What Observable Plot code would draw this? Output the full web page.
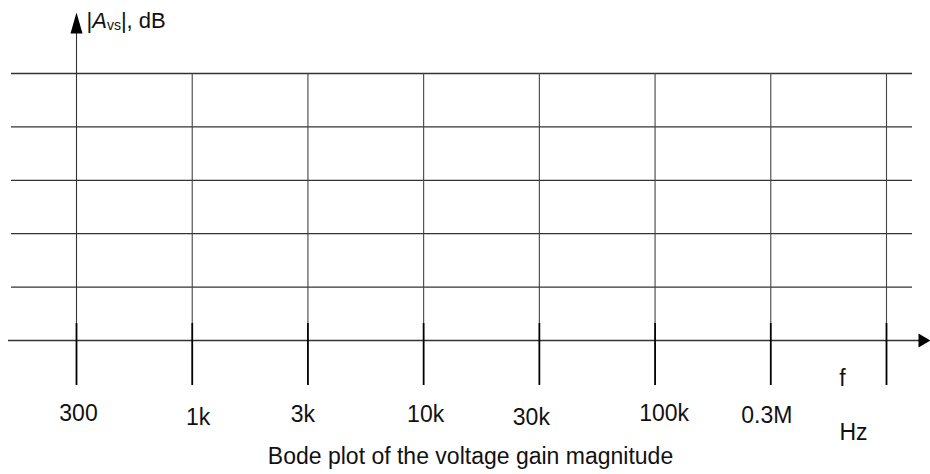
<!DOCTYPE html>
<html>
<head>
<meta charset="utf-8">
<script src="https://cdn.jsdelivr.net/npm/d3@7"></script>
<script src="https://cdn.jsdelivr.net/npm/@observablehq/plot@0.6"></script>
<style>
  html, body { margin: 0; padding: 0; background: #fff; }
  #chart svg { display: block; }
</style>
</head>
<body>
<div id="chart"></div>
<script>
// ---- data ----
const freqLabels = ["300", "1k", "3k", "10k", "30k", "100k", "0.3M", ""]; // last line unlabeled
const gridLevels = [0, 10, 20, 30, 40, 50];   // dB levels of the horizontal lines (unlabeled)
const yLabel = "|Avs|, dB";
const xUnitTop = "f";
const xUnitBottom = "Hz";
const caption = "Bode plot of the voltage gain magnitude";

// ---- layout (style) ----
const W = 930, H = 474;
const mL = 76, mR = 44, mT = 73, mB = 134;
const nTicks = freqLabels.length;
const xPer = (W - mL - mR) / (nTicks - 1);      // px per tick index
const yTop = d3.max(gridLevels);
const yPer = (H - mT - mB) / yTop;              // px per dB
const xv = px => (px - mL) / xPer;              // pixel -> x value
const yv = px => (H - mB - px) / yPer;          // pixel -> y value
const FONT = "'Liberation Sans', Arial, Helvetica, sans-serif";
const FS = 23;

const ticks = freqLabels.map((label, i) => ({i, label}));
const labelDx = [2, 6, -5, 2, -8, 9, -4, 0];
const labelDy = [0, 4, 1, 1, 4, 0, 2, 0];

const plot = Plot.plot({
  width: W, height: H,
  marginLeft: mL, marginRight: mR, marginTop: mT, marginBottom: mB,
  style: {fontFamily: FONT, background: "#fff", overflow: "visible"},
  x: {type: "linear", domain: [0, nTicks - 1], axis: null},
  y: {type: "linear", domain: [0, yTop], axis: null},
  marks: [
    // horizontal grid lines
    Plot.ruleY(gridLevels.filter(d => d > 0), {y: d => d, x1: xv(11), x2: xv(912), stroke: "#333", strokeWidth: 1.3}),
    // frequency axis line
    Plot.ruleY([0], {x1: xv(8), x2: xv(919), stroke: "#333", strokeWidth: 1.3}),
    // vertical grid lines (thin upper part)
    Plot.ruleX(ticks.slice(1), {x: "i", y1: yTop, y2: yv(323), stroke: "#444", strokeWidth: 1.1}),
    // y axis line
    Plot.ruleX([0], {x: d => d, y1: yv(30), y2: yv(323), stroke: "#333", strokeWidth: 1.1}),
    // heavier tick parts crossing the axis
    Plot.ruleX(ticks, {x: "i", y1: yv(323), y2: yv(385), stroke: "#000", strokeWidth: 1.8}),
    // arrow heads
    Plot.vector([0], {x: d => d, y: yv(33), length: 21, r: 6, rotate: 0, anchor: "start",
      shape: "spike", fill: "#000", stroke: "none"}),
    Plot.vector([0], {x: xv(918), y: d => d, length: 12, r: 7, rotate: 90, anchor: "start",
      shape: "spike", fill: "#000", stroke: "none"}),
    // tick labels
    Plot.text(ticks.filter(d => d.label), {x: "i", y: yv(413), text: "label", fontSize: FS, fill: "#111"}),
    // unit labels
    Plot.text([xUnitTop], {x: xv(842), y: yv(378), text: d => d, fontSize: FS, fill: "#111"}),
    Plot.text([xUnitBottom], {x: xv(853), y: yv(432), text: d => d, fontSize: FS, fill: "#111"}),
    // y label
    Plot.text([yLabel], {x: xv(86), y: yv(20), text: d => d, textAnchor: "start", fontSize: 22, fill: "#111"}),
    // caption
    Plot.text([caption], {x: xv(470), y: yv(456), text: d => d, fontSize: FS, fill: "#111"})
  ]
});

// small hand-placement nudges for tick labels, and rich text for the y label
d3.select(plot).selectAll("text").each(function() {
  const t = this.textContent;
  const idx = freqLabels.indexOf(t);
  if (idx >= 0 && t !== "") {
    const el = d3.select(this);
    const tr = el.attr("transform") || "";
    el.attr("transform", tr + ` translate(${labelDx[idx]},${labelDy[idx]})`);
  }
  if (t === yLabel) {
    const el = d3.select(this);
    el.text(null);
    el.append("tspan").text("|");
    el.append("tspan").attr("font-style", "italic").text("A");
    el.append("tspan").attr("font-size", 14).attr("dy", 2).text("vs");
    el.append("tspan").attr("dy", -2).text("|, dB");
  }
});

document.getElementById("chart").appendChild(plot);
</script>
</body>
</html>
